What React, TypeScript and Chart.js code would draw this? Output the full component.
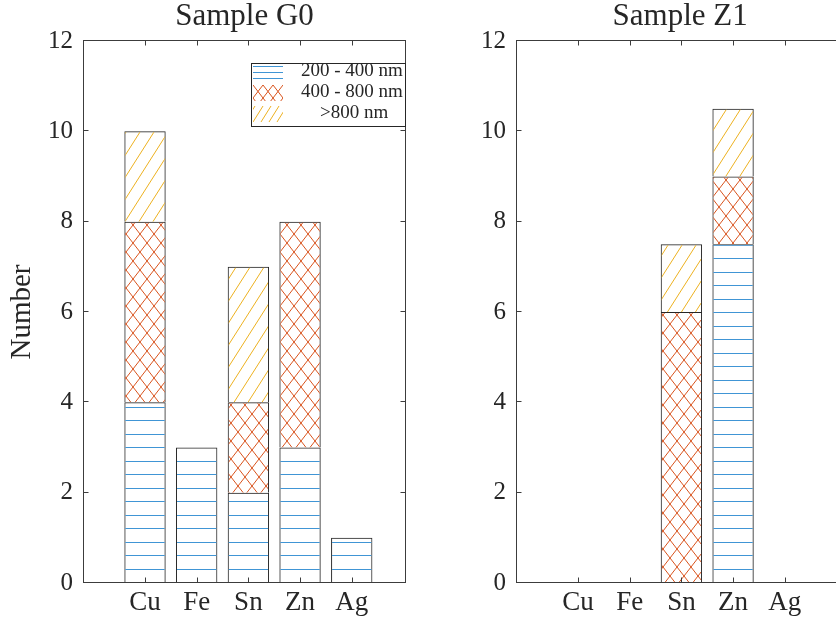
import React, { useEffect, useRef } from 'react';
import { Chart, registerables } from 'chart.js';

Chart.register(...registerables);

// ---------- data ----------
const categories = ['Cu', 'Fe', 'Sn', 'Zn', 'Ag'];
const categoryPositions = [1, 2, 3, 4, 5];
const seriesLabels = ['200 - 400 nm', '400 - 800 nm', '    >800 nm'];
const g0Small = [4, 3, 2, 3, 1];
const g0Medium = [4, 0, 2, 5, 0];
const g0Large = [2, 0, 3, 0, 0];
const z1Small = [0, 0, 0, 7.5, 0];
const z1Medium = [0, 0, 6, 1.5, 0];
const z1Large = [0, 0, 1.5, 1.5, 0];
const yTicks = [0, 2, 4, 6, 8, 10, 12];
const panelTitles = ['Sample G0', 'Sample Z1'];
const yAxisTitle = 'Number';

// ---------- styles ----------
const FONT = "'Liberation Serif', 'Times New Roman', serif";
const TEXT = '#262626';
const AXIS = '#3c3c3c';
const EDGE = '#262626';
const BLUE = '#4095d5';
const RED = '#d9541e';
const YELLOW = '#edb120';

function tile(w: number, h: number, draw: (g: CanvasRenderingContext2D) => void) {
  const c = document.createElement('canvas');
  c.width = w;
  c.height = h;
  const g = c.getContext('2d')!;
  draw(g);
  return c;
}

function makePatterns(ctx: CanvasRenderingContext2D) {
  const blue = tile(8, 27, (g) => {
    g.fillStyle = BLUE;
    g.fillRect(0, 2, 8, 1);
    g.fillRect(0, 15, 8, 1);
  });
  const red = tile(14, 18, (g) => {
    g.strokeStyle = RED;
    g.lineWidth = 1;
    g.beginPath();
    for (const dx of [-14, 0, 14]) {
      g.moveTo(dx - 14, -18);
      g.lineTo(dx + 28, 36);
      g.moveTo(dx + 28, -18);
      g.lineTo(dx - 14, 36);
    }
    g.stroke();
  });
  const yellow = tile(14, 22, (g) => {
    g.strokeStyle = YELLOW;
    g.lineWidth = 1;
    g.beginPath();
    for (const dx of [-14, 0, 14]) {
      g.moveTo(dx - 14, 44);
      g.lineTo(dx + 28, -22);
    }
    g.stroke();
  });
  return [
    ctx.createPattern(blue, 'repeat')!,
    ctx.createPattern(red, 'repeat')!,
    ctx.createPattern(yellow, 'repeat')!,
  ];
}

function drawLegend(ctx: CanvasRenderingContext2D, a: any, labels: string[]) {
  const w = 154;
  const h = 63;
  const bx = Math.round(a.right) - 1 - w;
  const by = Math.round(a.top) + 22;
  ctx.fillStyle = '#ffffff';
  ctx.fillRect(bx, by, w, h);
  ctx.strokeStyle = TEXT;
  ctx.lineWidth = 1;
  ctx.strokeRect(bx + 0.5, by + 0.5, w, h);
  const px = bx + 2;
  const pw = 30;
  labels.forEach((label, i) => {
    const cy = Math.floor(by + 9.5 + i * 21);
    ctx.save();
    if (i === 0) {
      ctx.fillStyle = BLUE;
      for (const dy of [-6, 0, 6]) ctx.fillRect(px, cy + dy, pw, 1);
    } else {
      ctx.beginPath();
      ctx.rect(px, cy - 8, pw, 16);
      ctx.clip();
      ctx.beginPath();
      ctx.lineWidth = 1;
      if (i === 1) {
        ctx.strokeStyle = RED;
        for (let k = -3; k <= 6; k++) {
          const x0 = px + k * 10;
          ctx.moveTo(x0, cy - 8);
          ctx.lineTo(x0 + 12.3, cy + 8);
          ctx.moveTo(x0, cy - 8);
          ctx.lineTo(x0 - 12.3, cy + 8);
        }
      } else {
        ctx.strokeStyle = YELLOW;
        for (let k = -2; k <= 6; k++) {
          const x0 = px + k * 8;
          ctx.moveTo(x0, cy + 8);
          ctx.lineTo(x0 + 10, cy - 8);
        }
      }
      ctx.stroke();
    }
    ctx.restore();
    ctx.fillStyle = TEXT;
    ctx.font = `19px ${FONT}`;
    ctx.textBaseline = 'middle';
    ctx.textAlign = 'left';
    ctx.fillText(label, bx + 50, cy - 1);
  });
}

const framePlugin = {
  id: 'frame',
  afterDatasetsDraw(chart: any, _args: any, opts: any) {
    const { ctx, chartArea: a, scales } = chart;
    const xs = scales.x;
    const ys = scales.y;
    ctx.save();
    ctx.strokeStyle = AXIS;
    ctx.lineWidth = 1;
    const l = Math.round(a.left) + 0.5;
    const r = Math.round(a.right) - 0.5;
    const t = Math.round(a.top) - 0.5;
    const b = Math.round(a.bottom) - 0.5;
    ctx.strokeRect(l, t, r - l, b - t);
    ctx.beginPath();
    for (const v of categoryPositions) {
      const px = Math.round(xs.getPixelForValue(v)) + 0.5;
      ctx.moveTo(px, b);
      ctx.lineTo(px, b - 5);
      ctx.moveTo(px, t);
      ctx.lineTo(px, t + 5);
    }
    for (const v of yTicks) {
      const py = Math.round(ys.getPixelForValue(v)) - 0.5;
      ctx.moveTo(l, py);
      ctx.lineTo(l + 5, py);
      ctx.moveTo(r, py);
      ctx.lineTo(r - 5, py);
    }
    ctx.stroke();
    if (opts && opts.legend) {
      drawLegend(ctx, a, chart.data.datasets.map((d: any) => d.label));
    }
    ctx.restore();
  },
};

function points(values: number[]) {
  return values.map((v, i) => ({ x: categoryPositions[i], y: v }));
}

function buildConfig(
  ctx: CanvasRenderingContext2D,
  title: string,
  series: number[][],
  layout: {
    canvasWidth: number;
    axisWidth: number;
    plotRight: number;
    xMax: number;
    showYTitle: boolean;
    showLegend: boolean;
  }
): any {
  const patterns = makePatterns(ctx);
  return {
    type: 'bar',
    data: {
      datasets: series.map((vals, i) => ({
        label: seriesLabels[i],
        data: points(vals),
        backgroundColor: patterns[i],
        borderColor: EDGE,
        borderWidth: { top: 1, left: 1, right: 1, bottom: i === 0 ? 1 : 0 },
        borderSkipped: false,
        barPercentage: 0.8,
        categoryPercentage: 1,
      })),
    },
    options: {
      responsive: false,
      animation: false,
      events: [],
      layout: { padding: { left: 0, right: layout.canvasWidth - layout.plotRight, top: 0, bottom: 0 } },
      plugins: {
        legend: { display: false },
        tooltip: { enabled: false },
        title: {
          display: true,
          text: title,
          fullSize: false,
          color: TEXT,
          font: { family: FONT, size: 31, weight: 'normal', lineHeight: 1.1 },
          padding: { top: 0, bottom: 6.9 },
        },
        frame: { legend: layout.showLegend },
      },
      scales: {
        x: {
          type: 'linear',
          min: -0.2,
          max: layout.xMax,
          offset: false,
          stacked: true,
          grid: { display: false, drawTicks: false },
          border: { display: false },
          afterBuildTicks: (s: any) => {
            s.ticks = categoryPositions.map((v) => ({ value: v }));
          },
          afterFit: (s: any) => {
            s.height = 38;
          },
          ticks: {
            autoSkip: false,
            maxRotation: 0,
            padding: 4,
            color: TEXT,
            font: { family: FONT, size: 27 },
            callback: (v: any) => {
              const idx = categoryPositions.indexOf(Number(v));
              return idx >= 0 ? categories[idx] : '';
            },
          },
        },
        y: {
          type: 'linear',
          min: 0,
          max: 12,
          stacked: true,
          grid: { display: false, drawTicks: false },
          border: { display: false },
          afterBuildTicks: (s: any) => {
            s.ticks = yTicks.map((v) => ({ value: v }));
          },
          afterFit: (s: any) => {
            s.width = layout.axisWidth;
          },
          ticks: {
            padding: 10,
            color: TEXT,
            font: { family: FONT, size: 25 },
          },
          title: {
            display: layout.showYTitle,
            text: yAxisTitle,
            color: TEXT,
            font: { family: FONT, size: 29 },
            padding: { top: 4.6, bottom: 0 },
          },
        },
      },
    },
    plugins: [framePlugin],
  };
}

export default function App() {
  const ref1 = useRef<HTMLCanvasElement>(null);
  const ref2 = useRef<HTMLCanvasElement>(null);

  useEffect(() => {
    document.body.style.margin = '0';
    const ctx1 = ref1.current!.getContext('2d')!;
    const ctx2 = ref2.current!.getContext('2d')!;
    const c1 = new Chart(
      ref1.current!,
      buildConfig(ctx1, panelTitles[0], [g0Small, g0Medium, g0Large], {
        canvasWidth: 418,
        axisWidth: 83,
        plotRight: 406,
        xMax: 6.05,
        showYTitle: true,
        showLegend: true,
      })
    );
    const c2 = new Chart(
      ref2.current!,
      buildConfig(ctx2, panelTitles[1], [z1Small, z1Medium, z1Large], {
        canvasWidth: 432,
        axisWidth: 98,
        plotRight: 426.2,
        xMax: 6.15,
        showYTitle: false,
        showLegend: false,
      })
    );
    return () => {
      c1.destroy();
      c2.destroy();
    };
  }, []);

  return (
    <div style={{ position: 'relative', width: 836, height: 621, overflow: 'hidden', background: '#ffffff' }}>
      <canvas ref={ref1} width={418} height={621} style={{ position: 'absolute', left: 0, top: 0 }} />
      <canvas ref={ref2} width={432} height={621} style={{ position: 'absolute', left: 418, top: 0 }} />
    </div>
  );
}
